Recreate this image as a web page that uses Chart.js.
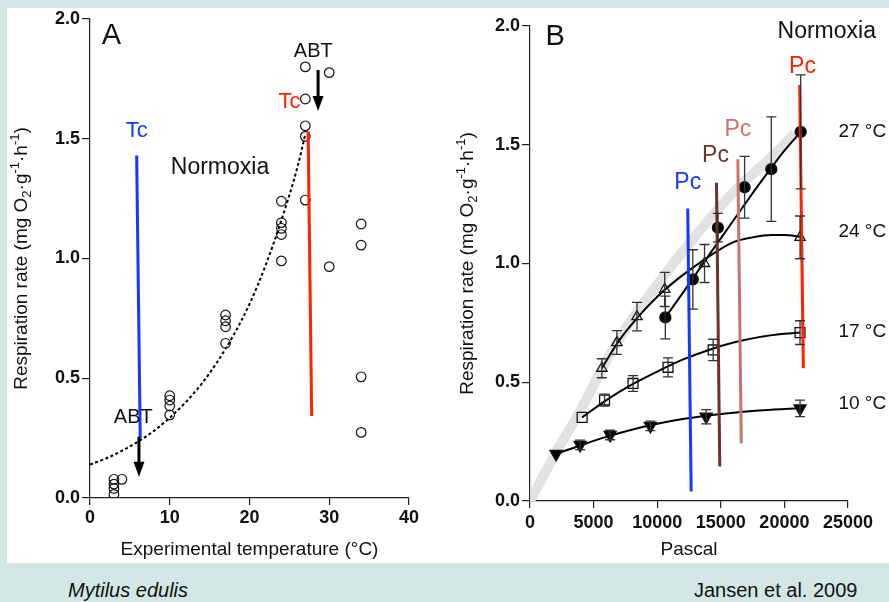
<!DOCTYPE html>
<html>
<head>
<meta charset="utf-8">
<script src="https://cdn.jsdelivr.net/npm/chart.js@4.4.1/dist/chart.umd.min.js"></script>
<style>
  html, body { margin: 0; padding: 0; }
  body { width: 889px; height: 602px; background: #d2e7e4; position: relative; overflow: hidden;
         font-family: 'Liberation Sans', Arial, sans-serif; }
  #panel { position: absolute; left: 7px; top: 8px; width: 882px; height: 555px; background: #fff; }
  #chartA { position: absolute; left: 0; top: 0; }
  #chartB { position: absolute; left: 440px; top: 0; }
  .foot { position: absolute; top: 578px; font-size: 20px; color: #111; line-height: 24px; }
</style>
</head>
<body>
<div id="panel"></div>
<canvas id="chartA" width="440" height="563"></canvas>
<canvas id="chartB" width="449" height="563"></canvas>
<div class="foot" style="left:68px; font-style:italic;">Mytilus edulis</div>
<div class="foot" style="left:694px;">Jansen et al. 2009</div>

<script>
// ---- panel A : respiration rate vs experimental temperature ----
var tempA = [3, 3, 3, 3, 4, 10, 10, 10, 10, 17, 17, 17, 17, 24, 24, 24, 24, 24, 27, 27, 27, 27, 27, 30, 30, 34, 34, 34, 34];
var rateA = [0.078, 0.058, 0.04, 0.015, 0.078, 0.427, 0.409, 0.384, 0.347, 0.764, 0.74, 0.715, 0.646,
             1.239, 1.15, 1.126, 1.10, 0.99, 1.80, 1.666, 1.554, 1.51, 1.244, 1.776, 0.966, 1.144, 1.056, 0.506, 0.274];
var fitTempA = [0, 2, 4, 6, 8, 10, 12, 14, 16, 18, 20, 22, 24, 26, 27];
var fitRateA = [0.14, 0.165, 0.197, 0.235, 0.28, 0.335, 0.40, 0.477, 0.57, 0.68, 0.81, 0.97, 1.16, 1.38, 1.52];
var tcBlueX = [5.85, 6.3], tcBlueY = [1.43, 0.25];
var tcRedX = [27.35, 27.8], tcRedY = [1.53, 0.342];

// ---- panel B : respiration rate vs oxygen pressure ----
var pa10 = [2050, 3940, 6300, 9460, 13850, 21230];
var r10 = [0.198, 0.236, 0.278, 0.316, 0.355, 0.39];
var e10 = [0, 0.02, 0.02, 0.02, 0.03, 0.035];
var pa17 = [4100, 5860, 8100, 10850, 14400, 21230];
var r17 = [0.352, 0.425, 0.495, 0.563, 0.636, 0.709];
var e17 = [0, 0.025, 0.033, 0.04, 0.045, 0.05];
var pa24 = [5650, 6830, 8410, 10590, 13720, 21230];
var r24 = [0.559, 0.667, 0.776, 0.891, 1.0, 1.11];
var e24 = [0.04, 0.05, 0.06, 0.072, 0.08, 0.09];
var pa27 = [10640, 12800, 14770, 16870, 18970, 21280];
var r27 = [0.773, 0.933, 1.151, 1.321, 1.397, 1.554];
var e27 = [0.09, 0.125, 0.06, 0.13, 0.22, 0.24];

var fit10X = [2050, 4000, 6000, 8000, 10000, 12000, 14000, 16000, 18000, 20000, 21230];
var fit10Y = [0.198, 0.235, 0.27, 0.30, 0.325, 0.345, 0.36, 0.372, 0.381, 0.387, 0.39];
var fit17X = [4100, 6000, 8000, 10000, 12000, 14000, 16000, 18000, 20000, 21230];
var fit17Y = [0.352, 0.425, 0.49, 0.545, 0.595, 0.635, 0.667, 0.69, 0.704, 0.709];
var fit24X = [5650, 7000, 8500, 10000, 11500, 13000, 14500, 16000, 17500, 19000, 20000, 21230];
var fit24Y = [0.559, 0.675, 0.775, 0.86, 0.93, 0.99, 1.045, 1.09, 1.11, 1.12, 1.12, 1.113];
var fit27X = [10640, 12000, 13000, 14000, 15000, 16000, 17000, 18000, 19000, 20000, 21280];
var fit27Y = [0.773, 0.875, 0.952, 1.03, 1.106, 1.182, 1.258, 1.333, 1.405, 1.475, 1.554];
var bandX = [0, 2000, 4000, 6000, 8000, 10000, 12000, 14000, 16000, 18000, 20000, 20800];
var bandY = [0, 0.2, 0.385, 0.59, 0.765, 0.91, 1.05, 1.18, 1.3, 1.4, 1.5, 1.55];

var pcBlueX = [12400, 12670], pcBlueY = [1.232, 0.04];
var pcBrownX = [14660, 14920], pcBrownY = [1.34, 0.145];
var pcPinkX = [16340, 16610], pcPinkY = [1.439, 0.243];
var pcRedX = [21200, 21490], pcRedY = [1.752, 0.559];

var FONT = "'Liberation Sans', Arial, Helvetica, sans-serif";
var BLUE = '#1438ff', RED = '#ff2200', BROWN = '#6d302b', PINK = '#cd716d';

function pts(xs, ys) {
  return xs.map(function(x, i) { return {x: x, y: ys[i]}; });
}

// rotated y title with sub/superscripts
function drawYTitle(ctx, cx, cy, size) {
  var parts = [['Respiration rate (mg O', 0], ['2', 1], ['\u00b7g', 0], ['-1', -1], ['\u00b7h', 0], ['-1', -1], [')', 0]];
  var small = Math.round(size * 0.68);
  var w = 0;
  parts.forEach(function(p) {
    ctx.font = (p[1] ? small : size) + 'px ' + FONT;
    w += ctx.measureText(p[0]).width;
  });
  ctx.save();
  ctx.translate(cx, cy);
  ctx.rotate(-Math.PI / 2);
  ctx.textBaseline = 'alphabetic';
  ctx.textAlign = 'left';
  ctx.fillStyle = '#111';
  var x = -w / 2;
  parts.forEach(function(p) {
    ctx.font = (p[1] ? small : size) + 'px ' + FONT;
    var dy = p[1] === 1 ? 4 : (p[1] === -1 ? -8 : 0);
    ctx.fillText(p[0], x, dy);
    x += ctx.measureText(p[0]).width;
  });
  ctx.restore();
}

var extras = {
  id: 'extras',
  afterDatasetsDraw: function(chart, args, opts) {
    var ctx = chart.ctx, xs = chart.scales.x, ys = chart.scales.y;
    ctx.save();
    // error bars
    chart.data.datasets.forEach(function(ds) {
      if (!ds.errors) return;
      ctx.strokeStyle = '#333';
      ctx.lineWidth = 1.3;
      ds.data.forEach(function(p, j) {
        var e = ds.errors[j];
        if (!e) return;
        var px = xs.getPixelForValue(p.x);
        var top = ys.getPixelForValue(p.y + e), bot = ys.getPixelForValue(p.y - e);
        ctx.beginPath();
        ctx.moveTo(px, top); ctx.lineTo(px, bot);
        ctx.moveTo(px - 5, top); ctx.lineTo(px + 5, top);
        ctx.moveTo(px - 5, bot); ctx.lineTo(px + 5, bot);
        ctx.stroke();
      });
    });
    // arrows
    (opts.arrows || []).forEach(function(a) {
      var px = xs.getPixelForValue(a.x);
      var y0 = ys.getPixelForValue(a.from), y1 = ys.getPixelForValue(a.to);
      ctx.strokeStyle = '#000';
      ctx.lineWidth = 3;
      ctx.beginPath(); ctx.moveTo(px, y0); ctx.lineTo(px, y1 - 12); ctx.stroke();
      ctx.fillStyle = '#000';
      ctx.beginPath();
      ctx.moveTo(px - 5.5, y1 - 15); ctx.lineTo(px + 5.5, y1 - 15); ctx.lineTo(px, y1);
      ctx.closePath(); ctx.fill();
    });
    // labels
    (opts.texts || []).forEach(function(t) {
      ctx.font = t.size + 'px ' + FONT;
      ctx.fillStyle = t.color || '#111';
      ctx.textAlign = t.align || 'center';
      ctx.textBaseline = 'middle';
      ctx.fillText(t.t, xs.getPixelForValue(t.x), ys.getPixelForValue(t.y));
    });
    ctx.restore();
  },
  afterDraw: function(chart, args, opts) {
    drawYTitle(chart.ctx, opts.titleX, (chart.chartArea.top + chart.chartArea.bottom) / 2, 19);
  }
};

function scales(xmin, xmax, xstep, xTitle, xh, xpad) {
  var tickFont = {family: FONT, size: 18, weight: 'bold'};
  return {
    x: {
      type: 'linear', min: xmin, max: xmax,
      ticks: {stepSize: xstep, color: '#111', font: tickFont, padding: xpad,
              callback: function(v) { return String(v); }},
      grid: {drawOnChartArea: false, drawTicks: true, tickLength: 7, color: '#222', lineWidth: 1.2},
      border: {color: '#222', width: 1.2},
      title: {display: true, text: xTitle, color: '#111', font: {family: FONT, size: 19}, padding: {top: 0, bottom: 2}},
      afterFit: function(s) { s.height = xh; }
    },
    y: {
      type: 'linear', min: 0, max: 2,
      ticks: {stepSize: 0.5, color: '#111', font: tickFont, padding: 2,
              callback: function(v) { return v.toFixed(1); }},
      grid: {drawOnChartArea: false, drawTicks: true, tickLength: 8, color: '#222', lineWidth: 1.2},
      border: {color: '#222', width: 1.2},
      afterFit: function(s) { s.width = 90; }
    }
  };
}

function vline(xs, ys, color) {
  return {data: pts(xs, ys), showLine: true, borderColor: color, borderWidth: 3, pointRadius: 0, order: 0};
}

new Chart(document.getElementById('chartA'), {
  type: 'scatter',
  data: {
    datasets: [
      vline(tcBlueX, tcBlueY, BLUE),
      vline(tcRedX, tcRedY, RED),
      {data: pts(tempA, rateA), pointStyle: 'circle', pointRadius: 4.8, pointBorderWidth: 1.2,
       pointBorderColor: '#111', pointBackgroundColor: 'rgba(0,0,0,0)', order: 1},
      {data: pts(fitTempA, fitRateA), showLine: true, borderDash: [3, 2.5], borderColor: '#000', borderWidth: 2,
       pointRadius: 0, cubicInterpolationMode: 'monotone', order: 2}
    ]
  },
  options: {
    responsive: false, animation: false, devicePixelRatio: 1,
    layout: {padding: {left: 0, top: 19, right: 31, bottom: 0}},
    scales: scales(0, 40, 10, 'Experimental temperature (\u00b0C)', 65, 2),
    plugins: {
      legend: {display: false}, tooltip: {enabled: false},
      extras: {
        titleX: 27,
        arrows: [{x: 28.6, from: 1.787, to: 1.616}, {x: 6.14, from: 0.256, to: 0.089}],
        texts: [
          {t: 'A', x: 2.7, y: 1.93, size: 29},
          {t: 'Normoxia', x: 16.3, y: 1.38, size: 23},
          {t: 'Tc', x: 5.85, y: 1.533, size: 22, color: BLUE},
          {t: 'Tc', x: 25.0, y: 1.655, size: 22, color: RED},
          {t: 'ABT', x: 28.0, y: 1.864, size: 20},
          {t: 'ABT', x: 5.43, y: 0.337, size: 20}
        ]
      }
    }
  },
  plugins: [extras]
});

function series(xs, ys, errs, style, r, fill, rot) {
  return {data: pts(xs, ys), errors: errs, pointStyle: style, pointRadius: r, pointRotation: rot || 0,
          pointBorderWidth: 1.3, pointBorderColor: '#111', pointBackgroundColor: fill, order: 1};
}
function fit(xs, ys) {
  return {data: pts(xs, ys), showLine: true, borderColor: '#000', borderWidth: 2, pointRadius: 0,
          cubicInterpolationMode: 'monotone', order: 2};
}

new Chart(document.getElementById('chartB'), {
  type: 'scatter',
  data: {
    datasets: [
      vline(pcBlueX, pcBlueY, BLUE),
      vline(pcBrownX, pcBrownY, BROWN),
      vline(pcPinkX, pcPinkY, PINK),
      vline(pcRedX, pcRedY, RED),
      series(pa27, r27, e27, 'circle', 5.5, '#000'),
      series(pa24, r24, e24, 'triangle', 6, 'rgba(255,255,255,0)'),
      series(pa17, r17, e17, 'rect', 7, 'rgba(255,255,255,0)'),
      series(pa10, r10, e10, 'triangle', 7, '#000', 180),
      fit(fit27X, fit27Y),
      fit(fit24X, fit24Y),
      fit(fit17X, fit17Y),
      fit(fit10X, fit10Y),
      {data: pts(bandX, bandY), showLine: true, borderColor: '#e2e2e2', borderWidth: 10, pointRadius: 0,
       cubicInterpolationMode: 'monotone', order: 3}
    ]
  },
  options: {
    responsive: false, animation: false, devicePixelRatio: 1,
    layout: {padding: {left: 0, top: 26, right: 41, bottom: 0}},
    scales: scales(0, 25000, 5000, 'Pascal', 62, 4),
    plugins: {
      legend: {display: false}, tooltip: {enabled: false},
      extras: {
        titleX: 33,
        texts: [
          {t: 'B', x: 1970, y: 1.955, size: 29},
          {t: 'Normoxia', x: 23330, y: 1.976, size: 23},
          {t: 'Pc', x: 12400, y: 1.34, size: 23, color: BLUE},
          {t: 'Pc', x: 14580, y: 1.453, size: 23, color: BROWN},
          {t: 'Pc', x: 16340, y: 1.565, size: 23, color: PINK},
          {t: 'Pc', x: 21420, y: 1.83, size: 23, color: RED},
          {t: '27 \u00b0C', x: 24250, y: 1.555, size: 19, align: 'left'},
          {t: '24 \u00b0C', x: 24250, y: 1.134, size: 19, align: 'left'},
          {t: '17 \u00b0C', x: 24250, y: 0.713, size: 19, align: 'left'},
          {t: '10 \u00b0C', x: 24250, y: 0.408, size: 19, align: 'left'}
        ]
      }
    }
  },
  plugins: [extras]
});
</script>
</body>
</html>
